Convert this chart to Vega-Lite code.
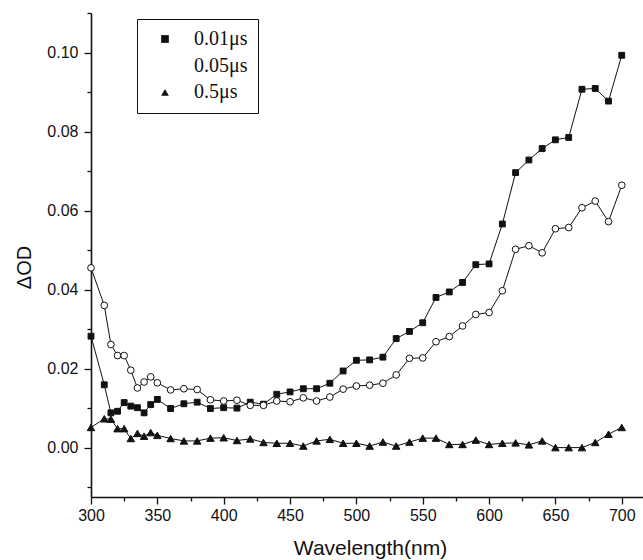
{
  "$schema": "https://vega.github.io/schema/vega-lite/v6.json",
  "width": 552,
  "height": 484,
  "autosize": {"type": "none"},
  "padding": {"left": 91, "top": 13, "right": 0, "bottom": 63},
  "background": "white",
  "config": {
    "view": {"stroke": null},
    "axis": {
      "grid": false,
      "domainColor": "#111",
      "tickColor": "#111",
      "labelColor": "#111",
      "titleColor": "#111",
      "labelFont": "Liberation Sans",
      "titleFont": "Liberation Sans",
      "titleFontWeight": "normal",
      "domainWidth": 1.6,
      "tickWidth": 1.3
    }
  },
  "data": {
    "values": [
      {"w": 300, "od": 0.0282, "s": "0.01μs"},
      {"w": 310, "od": 0.0159, "s": "0.01μs"},
      {"w": 315, "od": 0.0088, "s": "0.01μs"},
      {"w": 320, "od": 0.0092, "s": "0.01μs"},
      {"w": 325, "od": 0.0114, "s": "0.01μs"},
      {"w": 330, "od": 0.0105, "s": "0.01μs"},
      {"w": 335, "od": 0.0101, "s": "0.01μs"},
      {"w": 340, "od": 0.0088, "s": "0.01μs"},
      {"w": 345, "od": 0.0109, "s": "0.01μs"},
      {"w": 350, "od": 0.0122, "s": "0.01μs"},
      {"w": 360, "od": 0.0099, "s": "0.01μs"},
      {"w": 370, "od": 0.0111, "s": "0.01μs"},
      {"w": 380, "od": 0.0115, "s": "0.01μs"},
      {"w": 390, "od": 0.0099, "s": "0.01μs"},
      {"w": 400, "od": 0.0101, "s": "0.01μs"},
      {"w": 410, "od": 0.0100, "s": "0.01μs"},
      {"w": 420, "od": 0.0115, "s": "0.01μs"},
      {"w": 430, "od": 0.0110, "s": "0.01μs"},
      {"w": 440, "od": 0.0135, "s": "0.01μs"},
      {"w": 450, "od": 0.0141, "s": "0.01μs"},
      {"w": 460, "od": 0.0149, "s": "0.01μs"},
      {"w": 470, "od": 0.0149, "s": "0.01μs"},
      {"w": 480, "od": 0.0163, "s": "0.01μs"},
      {"w": 490, "od": 0.0194, "s": "0.01μs"},
      {"w": 500, "od": 0.0221, "s": "0.01μs"},
      {"w": 510, "od": 0.0222, "s": "0.01μs"},
      {"w": 520, "od": 0.0229, "s": "0.01μs"},
      {"w": 530, "od": 0.0276, "s": "0.01μs"},
      {"w": 540, "od": 0.0294, "s": "0.01μs"},
      {"w": 550, "od": 0.0316, "s": "0.01μs"},
      {"w": 560, "od": 0.0380, "s": "0.01μs"},
      {"w": 570, "od": 0.0394, "s": "0.01μs"},
      {"w": 580, "od": 0.0418, "s": "0.01μs"},
      {"w": 590, "od": 0.0463, "s": "0.01μs"},
      {"w": 600, "od": 0.0465, "s": "0.01μs"},
      {"w": 610, "od": 0.0566, "s": "0.01μs"},
      {"w": 620, "od": 0.0696, "s": "0.01μs"},
      {"w": 630, "od": 0.0728, "s": "0.01μs"},
      {"w": 640, "od": 0.0757, "s": "0.01μs"},
      {"w": 650, "od": 0.0779, "s": "0.01μs"},
      {"w": 660, "od": 0.0785, "s": "0.01μs"},
      {"w": 670, "od": 0.0907, "s": "0.01μs"},
      {"w": 680, "od": 0.0909, "s": "0.01μs"},
      {"w": 690, "od": 0.0877, "s": "0.01μs"},
      {"w": 700, "od": 0.0993, "s": "0.01μs"},

      {"w": 300, "od": 0.0455, "s": "0.05μs"},
      {"w": 310, "od": 0.0360, "s": "0.05μs"},
      {"w": 315, "od": 0.0261, "s": "0.05μs"},
      {"w": 320, "od": 0.0233, "s": "0.05μs"},
      {"w": 325, "od": 0.0233, "s": "0.05μs"},
      {"w": 330, "od": 0.0196, "s": "0.05μs"},
      {"w": 335, "od": 0.0151, "s": "0.05μs"},
      {"w": 340, "od": 0.0166, "s": "0.05μs"},
      {"w": 345, "od": 0.0179, "s": "0.05μs"},
      {"w": 350, "od": 0.0164, "s": "0.05μs"},
      {"w": 360, "od": 0.0146, "s": "0.05μs"},
      {"w": 370, "od": 0.0149, "s": "0.05μs"},
      {"w": 380, "od": 0.0147, "s": "0.05μs"},
      {"w": 390, "od": 0.0121, "s": "0.05μs"},
      {"w": 400, "od": 0.0118, "s": "0.05μs"},
      {"w": 410, "od": 0.0120, "s": "0.05μs"},
      {"w": 420, "od": 0.0107, "s": "0.05μs"},
      {"w": 430, "od": 0.0107, "s": "0.05μs"},
      {"w": 440, "od": 0.0118, "s": "0.05μs"},
      {"w": 450, "od": 0.0116, "s": "0.05μs"},
      {"w": 460, "od": 0.0126, "s": "0.05μs"},
      {"w": 470, "od": 0.0118, "s": "0.05μs"},
      {"w": 480, "od": 0.0128, "s": "0.05μs"},
      {"w": 490, "od": 0.0148, "s": "0.05μs"},
      {"w": 500, "od": 0.0156, "s": "0.05μs"},
      {"w": 510, "od": 0.0158, "s": "0.05μs"},
      {"w": 520, "od": 0.0163, "s": "0.05μs"},
      {"w": 530, "od": 0.0184, "s": "0.05μs"},
      {"w": 540, "od": 0.0226, "s": "0.05μs"},
      {"w": 550, "od": 0.0227, "s": "0.05μs"},
      {"w": 560, "od": 0.0268, "s": "0.05μs"},
      {"w": 570, "od": 0.0281, "s": "0.05μs"},
      {"w": 580, "od": 0.0308, "s": "0.05μs"},
      {"w": 590, "od": 0.0337, "s": "0.05μs"},
      {"w": 600, "od": 0.0342, "s": "0.05μs"},
      {"w": 610, "od": 0.0397, "s": "0.05μs"},
      {"w": 620, "od": 0.0502, "s": "0.05μs"},
      {"w": 630, "od": 0.0511, "s": "0.05μs"},
      {"w": 640, "od": 0.0493, "s": "0.05μs"},
      {"w": 650, "od": 0.0554, "s": "0.05μs"},
      {"w": 660, "od": 0.0557, "s": "0.05μs"},
      {"w": 670, "od": 0.0607, "s": "0.05μs"},
      {"w": 680, "od": 0.0624, "s": "0.05μs"},
      {"w": 690, "od": 0.0572, "s": "0.05μs"},
      {"w": 700, "od": 0.0664, "s": "0.05μs"},

      {"w": 300, "od": 0.0051, "s": "0.5μs"},
      {"w": 310, "od": 0.0073, "s": "0.5μs"},
      {"w": 315, "od": 0.0072, "s": "0.5μs"},
      {"w": 320, "od": 0.0048, "s": "0.5μs"},
      {"w": 325, "od": 0.0048, "s": "0.5μs"},
      {"w": 330, "od": 0.0023, "s": "0.5μs"},
      {"w": 335, "od": 0.0036, "s": "0.5μs"},
      {"w": 340, "od": 0.0029, "s": "0.5μs"},
      {"w": 345, "od": 0.0038, "s": "0.5μs"},
      {"w": 350, "od": 0.0031, "s": "0.5μs"},
      {"w": 360, "od": 0.0023, "s": "0.5μs"},
      {"w": 370, "od": 0.0017, "s": "0.5μs"},
      {"w": 380, "od": 0.0017, "s": "0.5μs"},
      {"w": 390, "od": 0.0024, "s": "0.5μs"},
      {"w": 400, "od": 0.0025, "s": "0.5μs"},
      {"w": 410, "od": 0.0018, "s": "0.5μs"},
      {"w": 420, "od": 0.0022, "s": "0.5μs"},
      {"w": 430, "od": 0.0013, "s": "0.5μs"},
      {"w": 440, "od": 0.0011, "s": "0.5μs"},
      {"w": 450, "od": 0.0011, "s": "0.5μs"},
      {"w": 460, "od": 0.0004, "s": "0.5μs"},
      {"w": 470, "od": 0.0017, "s": "0.5μs"},
      {"w": 480, "od": 0.0021, "s": "0.5μs"},
      {"w": 490, "od": 0.0011, "s": "0.5μs"},
      {"w": 500, "od": 0.0011, "s": "0.5μs"},
      {"w": 510, "od": 0.0004, "s": "0.5μs"},
      {"w": 520, "od": 0.0014, "s": "0.5μs"},
      {"w": 530, "od": 0.0004, "s": "0.5μs"},
      {"w": 540, "od": 0.0014, "s": "0.5μs"},
      {"w": 550, "od": 0.0024, "s": "0.5μs"},
      {"w": 560, "od": 0.0024, "s": "0.5μs"},
      {"w": 570, "od": 0.0008, "s": "0.5μs"},
      {"w": 580, "od": 0.0008, "s": "0.5μs"},
      {"w": 590, "od": 0.0019, "s": "0.5μs"},
      {"w": 600, "od": 0.0008, "s": "0.5μs"},
      {"w": 610, "od": 0.0011, "s": "0.5μs"},
      {"w": 620, "od": 0.0012, "s": "0.5μs"},
      {"w": 630, "od": 0.0007, "s": "0.5μs"},
      {"w": 640, "od": 0.0017, "s": "0.5μs"},
      {"w": 650, "od": 0.0000, "s": "0.5μs"},
      {"w": 660, "od": 0.0000, "s": "0.5μs"},
      {"w": 670, "od": 0.0000, "s": "0.5μs"},
      {"w": 680, "od": 0.0013, "s": "0.5μs"},
      {"w": 690, "od": 0.0034, "s": "0.5μs"},
      {"w": 700, "od": 0.0051, "s": "0.5μs"}
    ]
  },
  "encoding": {
    "x": {
      "field": "w",
      "type": "quantitative",
      "scale": {"domain": [300, 716], "nice": false, "zero": false},
      "axis": {
        "values": [300, 325, 350, 375, 400, 425, 450, 475, 500, 525, 550, 575, 600, 625, 650, 675, 700],
        "labelExpr": "datum.value % 50 == 0 ? datum.label : ''",
        "tickSize": {"condition": {"test": "datum.value % 50 != 0", "value": 4}, "value": 7},
        "labelFontSize": 16,
        "labelPadding": 3,
        "labelFlush": false,
        "labelOverlap": false,
        "title": "Wavelength(nm)",
        "titleFontSize": 21,
        "titleX": 279,
        "titleY": 57,
        "titleBaseline": "alphabetic",
        "titleAlign": "center"
      }
    },
    "y": {
      "field": "od",
      "type": "quantitative",
      "scale": {"domain": [-0.0125, 0.11], "nice": false, "zero": false},
      "axis": {
        "values": [-0.01, 0, 0.01, 0.02, 0.03, 0.04, 0.05, 0.06, 0.07, 0.08, 0.09, 0.1, 0.11],
        "labelExpr": "round(datum.value*100) % 2 == 0 ? format(datum.value, '.2f') : ''",
        "tickSize": {"condition": {"test": "round(datum.value*100) % 2 != 0", "value": 4}, "value": 7},
        "labelFontSize": 16,
        "labelPadding": 6,
        "labelOverlap": false,
        "title": "ΔOD",
        "titleFontSize": 20,
        "titleX": -67,
        "titleY": 254,
        "titleAngle": 270,
        "titleBaseline": "middle",
        "titleAlign": "center"
      }
    }
  },
  "layer": [
    {
      "mark": {"type": "line", "color": "#111", "strokeWidth": 1},
      "encoding": {"detail": {"field": "s"}}
    },
    {
      "mark": {"type": "point", "filled": true, "stroke": "#111", "strokeWidth": 1, "opacity": 1},
      "encoding": {
        "shape": {
          "field": "s",
          "type": "nominal",
          "scale": {"domain": ["0.01μs", "0.05μs", "0.5μs"], "range": ["square", "circle", "triangle-up"]},
          "legend": {
            "orient": "none",
            "legendX": 46,
            "legendY": 6,
            "title": null,
            "labelFont": "Liberation Serif",
            "labelFontSize": 20,
            "labelColor": "#111",
            "labelLimit": 300,
            "strokeColor": "#111",
            "fillColor": "white",
            "padding": 10,
            "rowPadding": 6.7,
            "symbolSize": 60,
            "symbolStrokeWidth": 1,
            "symbolStrokeColor": "#111",
            "symbolOffset": 8,
            "labelOffset": 19
          }
        },
        "fill": {
          "field": "s",
          "type": "nominal",
          "scale": {"domain": ["0.01μs", "0.05μs", "0.5μs"], "range": ["#111", "white", "#111"]},
          "legend": {
            "orient": "none",
            "legendX": 46,
            "legendY": 6,
            "title": null,
            "labelFont": "Liberation Serif",
            "labelFontSize": 20,
            "labelColor": "#111",
            "labelLimit": 300,
            "strokeColor": "#111",
            "fillColor": "white",
            "padding": 10,
            "rowPadding": 6.7,
            "symbolSize": 60,
            "symbolStrokeWidth": 1,
            "symbolStrokeColor": "#111",
            "symbolOffset": 8,
            "labelOffset": 19
          }
        },
        "size": {
          "field": "s",
          "type": "nominal",
          "scale": {"domain": ["0.5μs", "0.05μs", "0.01μs"], "range": [56, 34, 45]},
          "legend": null
        }
      }
    }
  ]
}
